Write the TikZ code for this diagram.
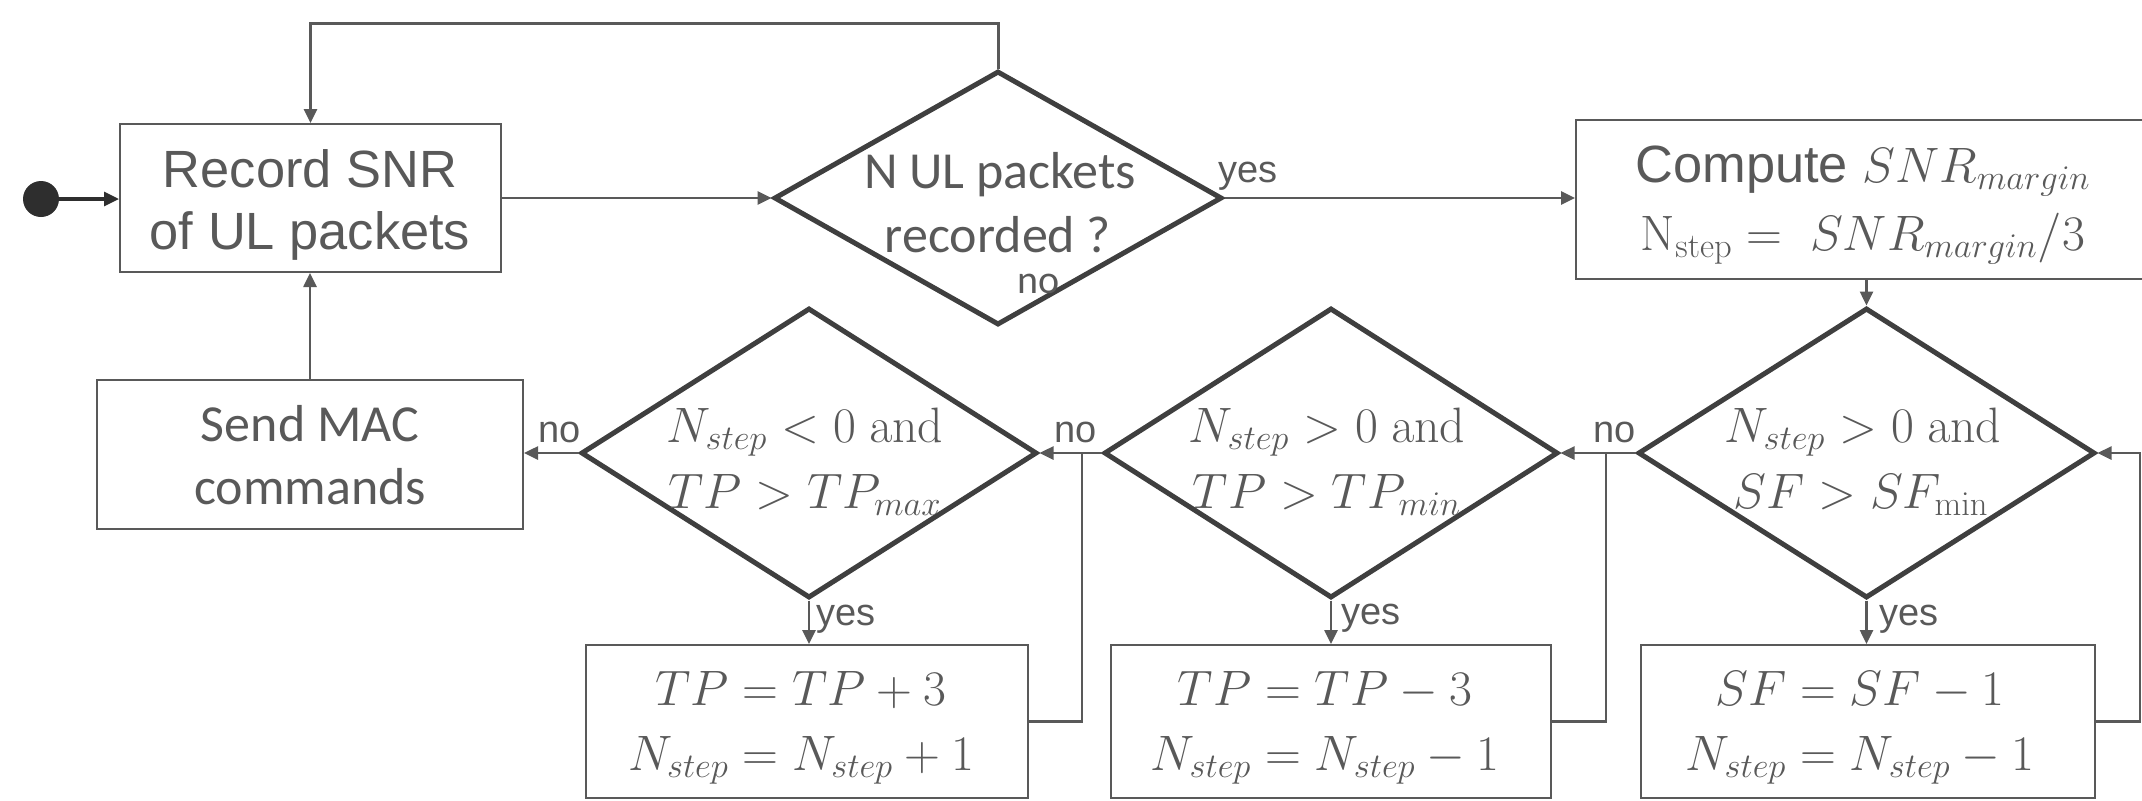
\documentclass[tikz,border=0pt]{standalone}
\usepackage[no-math]{fontspec}
\setmainfont{Liberation Sans}
\newfontfamily\calfont{Carlito}
\usetikzlibrary{shapes.geometric,arrows.meta}

\definecolor{ink}{HTML}{595959}
\definecolor{edge}{HTML}{3F3F3F}
\definecolor{dotc}{HTML}{2E2E2E}

% font sizes
\newcommand{\sanssz}{\fontsize{26.2}{31}\selectfont}
\newcommand{\calsz}{\calfont\fontsize{26}{31}\selectfont}
\newcommand{\mathsz}{\fontsize{25}{30}\selectfont}
\newcommand{\lblsz}{\fontsize{19}{22}\selectfont}

\tikzset{
  wire/.style={draw=ink, line width=1.3pt},
  arr/.style={wire, -{Triangle[length=7pt,width=6.5pt]}},
  procbox/.style={draw=ink, line width=1pt, inner sep=0pt, rectangle},
  decision/.style={diamond, draw=edge, line width=2.5pt, inner sep=0pt},
  txt/.style={anchor=base, text=ink, inner sep=0pt, outer sep=0pt},
  lbl/.style={text=ink, inner sep=0pt, outer sep=0pt, font=\lblsz},
}

\begin{document}
\begin{tikzpicture}[x=0.5pt,y=-0.5pt]
\useasboundingbox (0,0) rectangle (2142,800);
\clip (0,0) rectangle (2142,800);

% ---- shapes ----
\node[circle, fill=dotc, minimum size=18pt, inner sep=0pt] (start) at (41,199) {};
\node[procbox, minimum width=190.5pt, minimum height=74pt] (rec) at (310.5,198) {};
\node[decision, minimum width=224pt, minimum height=127pt] (d1) at (998,198) {};
\node[procbox, minimum width=289pt, minimum height=79.5pt] (comp) at (1865,199.5) {};
\node[procbox, minimum width=213pt, minimum height=74.5pt] (mac) at (310,454.5) {};
\node[decision, minimum width=228pt, minimum height=145pt] (dA) at (809,453) {};
\node[decision, minimum width=227pt, minimum height=145pt] (dB) at (1331,453) {};
\node[decision, minimum width=228.5pt, minimum height=145pt] (dC) at (1866.5,453) {};
\node[procbox, minimum width=221pt, minimum height=76.5pt] (bA) at (807,721.5) {};
\node[procbox, minimum width=220pt, minimum height=76.5pt] (bB) at (1331,721.5) {};
\node[procbox, minimum width=227pt, minimum height=76.5pt] (bC) at (1868,721.5) {};

% ---- texts ----
\node[txt, font=\sanssz] (rec1) at (310,187) {Record SNR};
\node[txt, font=\sanssz] (rec2) at (310,249) {of UL packets};
\node[txt, font=\calsz] (d1a) at (1000,188) {N UL packets};
\node[txt, font=\calsz] (d1b) at (998,252) {recorded ?};
\node[txt] (comp1) at (1863,182) {\sanssz Compute {\mathsz$SNR_{margin}$}};
\node[txt, font=\mathsz] (comp2) at (1863,250) {$\mathrm{N}_{\mathrm{step}} =\; SNR_{margin}/3$};
\node[txt, font=\calsz] (mac1) at (310,441) {Send MAC};
\node[txt, font=\calsz] (mac2) at (310,504) {commands};
\node[txt, font=\mathsz] (dA1) at (805,442) {$N_{step} < 0\ \mathrm{and}$};
\node[txt, font=\mathsz] (dA2) at (805,508) {$TP > TP_{max}$};
\node[txt, font=\mathsz] (dB1) at (1327,442) {$N_{step} > 0\ \mathrm{and}$};
\node[txt, font=\mathsz] (dB2) at (1327,508) {$TP > TP_{min}$};
\node[txt, font=\mathsz] (dC1) at (1863,442) {$N_{step} > 0\ \mathrm{and}$};
\node[txt, font=\mathsz] (dC2) at (1861,508) {$SF > SF_{\mathrm{min}}$};
\node[txt, font=\mathsz] (bA1) at (801,705) {$TP = TP + 3$};
\node[txt, font=\mathsz] (bA2) at (801,770) {$N_{step} = N_{step} + 1$};
\node[txt, font=\mathsz] (bB1) at (1325,705) {$TP = TP - 3$};
\node[txt, font=\mathsz] (bB2) at (1325,770) {$N_{step} = N_{step} - 1$};
\node[txt, font=\mathsz] (bC1) at (1860,705) {$SF = SF - 1$};
\node[txt, font=\mathsz] (bC2) at (1860,770) {$N_{step} = N_{step} - 1$};

% ---- connectors ----
\coordinate (ltop) at (310.5,23);
\coordinate (jA) at (1082,453);
\coordinate (jB) at (1606,453);
\coordinate (jC) at (2140,453);

\draw[dotc, line width=1.6pt, -{Triangle[length=7.5pt,width=7pt]}] (start.east) -- (start.east -| rec.west);
\draw[arr] (rec.east) -- (rec.east -| d1.west);
\draw[arr, line width=1.5pt] (d1.north) |- (ltop) -- (rec.north);
\draw[arr] (d1.east) -- (d1.east -| comp.west);
\draw[arr] (dC.north |- comp.south) -- (dC.north);
\draw[arr] (mac.north) -- (mac.north |- rec.south);

\draw[arr] (dA.west) -- (dA.west -| mac.east);
\draw[arr] (dB.west) -- (dA.east);
\draw[arr] (dC.west) -- (dB.east);
\draw[arr] (bC.east) -| (jC) -- (dC.east);
\draw[wire] (bA.east) -| (jA);
\draw[wire] (bB.east) -| (jB);

\draw[arr] (dA.south) -- (dA.south |- bA.north);
\draw[arr] (dB.south) -- (dB.south |- bB.north);
\draw[arr] (dC.south) -- (dC.south |- bC.north);

% ---- branch labels ----
\node[lbl, anchor=base west] (yes1) at ([shift={(-6,-16)}]d1.east) {yes};
\node[lbl, anchor=base, font=\calfont\fontsize{20}{22}\selectfont] (no1) at (1039,293) {no};
\node[lbl, anchor=base east] (noA) at ([shift={(2,-11)}]dA.west) {no};
\node[lbl, anchor=base east] (noB) at ([shift={(-5,-11)}]dB.west) {no};
\node[lbl, anchor=base east] (noC) at ([shift={(0,-11)}]dC.west) {no};
\node[lbl, anchor=base west] (yesA) at ([shift={(7,25)}]dA.south) {yes};
\node[lbl, anchor=base west] (yesB) at ([shift={(10,24)}]dB.south) {yes};
\node[lbl, anchor=base west] (yesC) at ([shift={(13,25)}]dC.south) {yes};
\end{tikzpicture}
\end{document}
